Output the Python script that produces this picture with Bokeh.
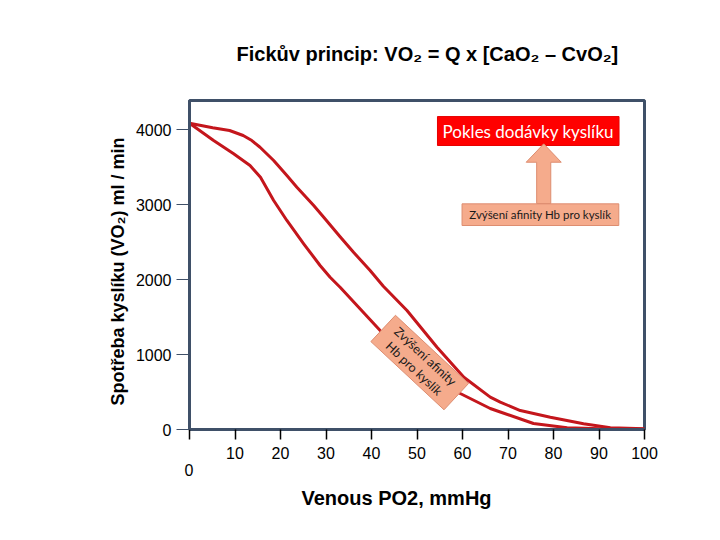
import math
from bokeh.plotting import figure
from bokeh.models import Range1d, FixedTicker, Title
from bokeh.core.properties import value
from bokeh.embed import file_html
from bokeh.resources import INLINE

# ---- data ----
upper_x = [0, 5.1, 8.8, 11.8, 13.7, 15.5, 18.5, 21.4, 23.6, 27.3, 29.5, 33.1, 36.1, 39.7, 42.6, 47.8, 54.4, 60.3, 66.1, 68.3, 72.7, 79.3, 86.6, 92.5, 100]
upper_y = [4084, 4023, 3987, 3920, 3853, 3764, 3587, 3387, 3231, 2987, 2831, 2570, 2360, 2120, 1910, 1587, 1097, 697, 431, 364, 253, 164, 76, 23, 9]

lower_x = [0, 5.3, 9.7, 13.3, 15.6, 18.5, 21.4, 25.1, 28.7, 30.9, 33.1, 41.9, 46, 50, 55, 59.5, 66.1, 68.3, 75.6, 83, 90.3, 100]
lower_y = [4084, 3853, 3676, 3520, 3364, 3053, 2787, 2476, 2187, 2031, 1897, 1320, 1100, 890, 670, 480, 280, 233, 80, 23, 9, 3]

x_ticks = [0, 10, 20, 30, 40, 50, 60, 70, 80, 90, 100]
y_ticks = [0, 1000, 2000, 3000, 4000]

title_text = "Fickův princip:  VO₂ = Q x [CaO₂ – CvO₂]"
x_label = "Venous PO2, mmHg"
y_label = "Spotřeba kyslíku (VO₂) ml / min"
box_top_text = "Pokles dodávky kyslíku"
box_low_text = "Zvýšení afinity Hb pro kyslík"
box_rot_text = "Zvýšení afinity\nHb pro kyslík"

SLATE = "#3f5068"
RED = "#c4161c"
SALMON = "#f5ab8c"
SALMON_EDGE = "#dd8d70"

p = figure(width=700, height=520, output_backend="svg", toolbar_location=None,
           x_range=Range1d(0, 100), y_range=Range1d(0, 4387),
           min_border_left=189, min_border_right=56, min_border_top=100, min_border_bottom=91)

p.title.text = title_text
p.title.align = "left"
p.title.offset = 47
p.title.text_font = "Liberation Sans"
p.title.text_font_size = "20px"
p.title.text_font_style = "bold"
p.title.text_color = "black"
p.title.standoff = 72

p.outline_line_color = SLATE
p.outline_line_width = 3
p.grid.visible = False
p.background_fill_color = "white"
p.border_fill_color = "white"

# x axis
p.xaxis.ticker = FixedTicker(ticks=x_ticks)
p.xaxis.major_label_overrides = {0: ""}
p.xaxis.major_label_text_font = "Liberation Sans"
p.xaxis.major_label_text_font_size = "16px"
p.xaxis.major_label_text_color = "black"
p.xaxis.major_label_standoff = 7
p.xaxis.major_tick_in = 0
p.xaxis.major_tick_out = 10
p.xaxis.major_tick_line_color = "black"
p.xaxis.major_tick_line_width = 1.5
p.xaxis.minor_tick_line_color = None
p.xaxis.axis_line_color = SLATE
p.xaxis.axis_line_width = 3

# lowered "0" label and x axis title, placed as titles below the axis
p.add_layout(Title(text="0", align="left", offset=-5, standoff=0,
                   text_font="Liberation Sans", text_font_size="16px",
                   text_font_style="normal", text_color="black"), "below")
p.add_layout(Title(text=x_label, align="left", offset=112, standoff=19,
                   text_font="Liberation Sans", text_font_size="20px",
                   text_font_style="bold", text_color="black"), "below")

# y axis
p.yaxis.ticker = FixedTicker(ticks=y_ticks)
p.yaxis.major_label_text_font = "Liberation Sans"
p.yaxis.major_label_text_font_size = "16px"
p.yaxis.major_label_text_color = "black"
p.yaxis.major_label_standoff = 5
p.yaxis.major_tick_in = 0
p.yaxis.major_tick_out = 13
p.yaxis.major_tick_line_color = SLATE
p.yaxis.major_tick_line_width = 1
p.yaxis.minor_tick_line_color = None
p.yaxis.axis_line_color = SLATE
p.yaxis.axis_line_width = 3

# y axis title as a side title
p.add_layout(Title(text=y_label, align="left", offset=24, standoff=10,
                   text_font="Liberation Sans", text_font_size="18px",
                   text_font_style="bold", text_color="black"), "left")

# curves
p.line(upper_x, upper_y, line_color=RED, line_width=3, line_join="round")
p.line(lower_x, lower_y, line_color=RED, line_width=3, line_join="round")

# red box at top
p.quad(left=[54.5], right=[94.4], bottom=[3787], top=[4173], fill_color="#ff0000", line_color="#e60000")
p.text(x=[74.45], y=[3980], text=[box_top_text], text_align="center", text_baseline="middle",
       text_font=value("Lato"), text_font_size="17px", text_color="white")

# arrow
p.patch(x=[76.3, 76.3, 74.0, 77.85, 81.7, 79.4, 79.4],
        y=[3013, 3564, 3564, 3809, 3564, 3564, 3013],
        fill_color=SALMON, line_color=SALMON_EDGE, line_width=1)

# lower box
p.quad(left=[59.9], right=[94.35], bottom=[2720], top=[3009], fill_color=SALMON, line_color=SALMON_EDGE)
p.text(x=[77.1], y=[2865], text=[box_low_text], text_align="center", text_baseline="middle",
       text_font=value("Lato"), text_font_size="11.5px", text_color="#1a1a1a")

# rotated box
ang = math.radians(-43)
p.rect(x=[50.6], y=[893], width=100, height=36, width_units="screen", height_units="screen",
       angle=ang, fill_color=SALMON, line_color=SALMON_EDGE)
p.text(x=[50.6], y=[893], text=[box_rot_text], angle=ang, text_align="center", text_baseline="middle",
       text_font=value("Lato"), text_font_size="12.5px", text_color="#1a1a1a", text_line_height=1.1)

open("out.html", "w").write(file_html(p, INLINE))
